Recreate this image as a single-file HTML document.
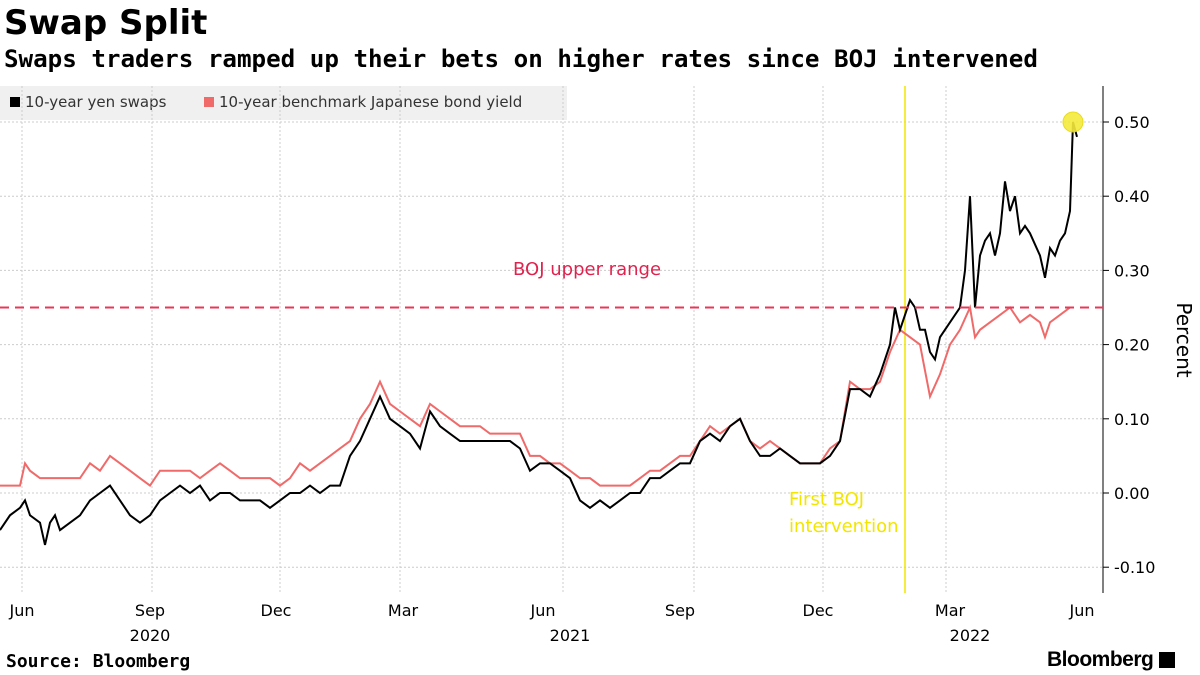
<!DOCTYPE html>
<html><head><meta charset="utf-8"><style>
body{margin:0;width:1200px;height:675px;background:#fff;font-family:"DejaVu Sans","Liberation Sans",sans-serif;overflow:hidden;position:relative}
.t{position:absolute;white-space:nowrap}
</style></head><body>
<div class="t" style="left:4px;top:3px;font-size:34px;font-weight:bold;color:#000">Swap Split</div>
<div class="t" style="left:4px;top:45px;font-size:24.2px;font-weight:bold;color:#000;font-family:'DejaVu Sans Mono','Liberation Mono',monospace">Swaps traders ramped up their bets on higher rates since BOJ intervened</div>
<div style="position:absolute;left:0;top:86px;width:567px;height:34px;background:#f0f0f0"></div>
<div class="t" style="left:10px;top:93px;font-size:15px;color:#333"><span style="display:inline-block;width:10px;height:10px;background:#000;margin-right:5px"></span>10-year yen swaps</div>
<div class="t" style="left:204px;top:93px;font-size:15px;color:#333"><span style="display:inline-block;width:10px;height:10px;background:#f06a6a;margin-right:5px"></span>10-year benchmark Japanese bond yield</div>
<svg id="c" width="1200" height="675" style="position:absolute;left:0;top:0;font-family:'DejaVu Sans','Liberation Sans',sans-serif"></svg>
<div class="t" style="left:6px;top:651px;font-size:18px;font-weight:bold;color:#000;font-family:'DejaVu Sans Mono','Liberation Mono',monospace">Source: Bloomberg</div>
<div class="t" style="left:1047px;top:648px;font-size:21px;font-weight:bold;color:#000;font-family:'Liberation Sans',sans-serif;letter-spacing:-0.5px">Bloomberg <span style="display:inline-block;width:16px;height:16px;background:#000;vertical-align:-2px"></span></div>
<script>
const swapWeek=[0,1,2,2.5,3,4,4.5,5,5.5,6,7,8,9,10,11,12,13,14,15,16,17,18,19,20,21,22,23,24,25,26,27,28,29,30,31,32,33,34,35,36,37,38,39,40,41,42,43,44,45,46,47,48,49,50,51,52,53,54,55,56,57,58,59,60,61,62,63,64,65,66,67,68,69,70,71,72,73,74,75,76,77,78,79,80,81,82,83,84,85,86,87,88,89,89.5,90,90.5,91,91.5,92,92.5,93,93.5,94,95,96,96.5,97,97.5,98,98.5,99,99.5,100,100.5,101,101.5,102,102.5,103,104,104.5,105,105.5,106,106.5,107,107.3,107.7];
const swapVals=[-0.05,-0.03,-0.02,-0.01,-0.03,-0.04,-0.07,-0.04,-0.03,-0.05,-0.04,-0.03,-0.01,0.0,0.01,-0.01,-0.03,-0.04,-0.03,-0.01,0.0,0.01,0.0,0.01,-0.01,0.0,0.0,-0.01,-0.01,-0.01,-0.02,-0.01,0.0,0.0,0.01,0.0,0.01,0.01,0.05,0.07,0.10,0.13,0.10,0.09,0.08,0.06,0.11,0.09,0.08,0.07,0.07,0.07,0.07,0.07,0.07,0.06,0.03,0.04,0.04,0.03,0.02,-0.01,-0.02,-0.01,-0.02,-0.01,0.0,0.0,0.02,0.02,0.03,0.04,0.04,0.07,0.08,0.07,0.09,0.10,0.07,0.05,0.05,0.06,0.05,0.04,0.04,0.04,0.05,0.07,0.14,0.14,0.13,0.16,0.20,0.25,0.22,0.24,0.26,0.25,0.22,0.22,0.19,0.18,0.21,0.23,0.25,0.30,0.40,0.25,0.32,0.34,0.35,0.32,0.35,0.42,0.38,0.40,0.35,0.36,0.35,0.32,0.29,0.33,0.32,0.34,0.35,0.38,0.50,0.48];
const jgbWeek=[0,1,2,2.5,3,4,5,6,7,8,9,10,11,12,13,14,15,16,17,18,19,20,21,22,23,24,25,26,27,28,29,30,31,32,33,34,35,36,37,38,39,40,41,42,43,44,45,46,47,48,49,50,51,52,53,54,55,56,57,58,59,60,61,62,63,64,65,66,67,68,69,70,71,72,73,74,75,76,77,78,79,80,81,82,83,84,85,86,87,88,89,90,91,92,93,94,95,96,97,97.5,98,99,100,101,102,103,104,104.5,105,106,107,107.3];
const jgbVals=[0.01,0.01,0.01,0.04,0.03,0.02,0.02,0.02,0.02,0.02,0.04,0.03,0.05,0.04,0.03,0.02,0.01,0.03,0.03,0.03,0.03,0.02,0.03,0.04,0.03,0.02,0.02,0.02,0.02,0.01,0.02,0.04,0.03,0.04,0.05,0.06,0.07,0.10,0.12,0.15,0.12,0.11,0.10,0.09,0.12,0.11,0.10,0.09,0.09,0.09,0.08,0.08,0.08,0.08,0.05,0.05,0.04,0.04,0.03,0.02,0.02,0.01,0.01,0.01,0.01,0.02,0.03,0.03,0.04,0.05,0.05,0.07,0.09,0.08,0.09,0.10,0.07,0.06,0.07,0.06,0.05,0.04,0.04,0.04,0.06,0.07,0.15,0.14,0.14,0.15,0.19,0.22,0.21,0.20,0.13,0.16,0.20,0.22,0.25,0.21,0.22,0.23,0.24,0.25,0.23,0.24,0.23,0.21,0.23,0.24,0.25,0.25];
const yTicks=[0.5,0.4,0.3,0.2,0.1,0.0,-0.1];
const yTickLabels=["0.50","0.40","0.30","0.20","0.10","0.00","-0.10"];
const monthLabels=["Jun","Sep","Dec","Mar","Jun","Sep","Dec","Mar","Jun"];
const monthWeeks=[2.2,15.0,27.6,40.3,54.3,68.0,81.8,95.0,108.2];
const gridWeeks=[2.2,15.2,28,40,56.3,69.4,82.3,94.6];
const yearLabels=["2020","2021","2022"];
const yearWeeks=[15.0,57.0,97.0];
const bojRange=0.25, interventionWeek=90.5;

const svg=document.getElementById('c');const NS='http://www.w3.org/2000/svg';
const X=w=>w*10, Y=v=>493-v*742;
function mk(t,a,p){const e=document.createElementNS(NS,t);for(const k in a)e.setAttribute(k,a[k]);(p||svg).appendChild(e);return e;}
yTicks.forEach((v,i)=>{
 const g=mk('line',{x1:0,x2:1103,y1:Y(v),y2:Y(v),stroke:'#ccc','stroke-dasharray':'2,2'});
 
 const tk=mk('line',{x1:1103,x2:1109,y1:Y(v),y2:Y(v),stroke:'#000'});
 
 const t=mk('text',{x:1114,y:Y(v)+6,'font-size':16,fill:'#000'});t.textContent=yTickLabels[i];
 
});
gridWeeks.forEach(w=>{
 const g=mk('line',{x1:X(w),x2:X(w),y1:86,y2:593,stroke:'#ccc','stroke-dasharray':'2,2'});
 
});
monthWeeks.forEach((w,i)=>{
 const t=mk('text',{x:X(w),y:616,'font-size':16,fill:'#000','text-anchor':'middle'});t.textContent=monthLabels[i];
 
});
yearWeeks.forEach((w,i)=>{const t=mk('text',{x:X(w),y:641,'font-size':16,fill:'#000','text-anchor':'middle'});t.textContent=yearLabels[i];
 });
const ax=mk('line',{x1:1103,x2:1103,y1:86,y2:593,stroke:'#000'});

const pl=mk('text',{x:1177,y:340,'font-size':20,fill:'#000','text-anchor':'middle',transform:'rotate(90 1177 340)'});pl.textContent='Percent';

const vl=mk('line',{x1:X(interventionWeek),x2:X(interventionWeek),y1:86,y2:593,stroke:'#f2e600','stroke-width':1.5});

const jp=mk('polyline',{points:jgbWeek.map((w,i)=>X(w)+','+Y(jgbVals[i])).join(' '),fill:'none',stroke:'#f06a6a','stroke-width':2});

const sp=mk('polyline',{points:swapWeek.map((w,i)=>X(w)+','+Y(swapVals[i])).join(' '),fill:'none',stroke:'#000','stroke-width':2});

const dl=mk('line',{x1:0,x2:1103,y1:Y(bojRange),y2:Y(bojRange),stroke:'#e8375a','stroke-width':2,'stroke-dasharray':'9,6'});

const bt=mk('text',{x:513,y:275,'font-size':18,fill:'#e0234e'});bt.textContent='BOJ upper range';

const it1=mk('text',{x:789,y:505,'font-size':18,fill:'#f2e600'});it1.textContent='First BOJ';

const it2=mk('text',{x:789,y:532,'font-size':18,fill:'#f2e600'});it2.textContent='intervention';

const mi=swapVals.indexOf(Math.max(...swapVals));
const cc=mk('circle',{cx:X(swapWeek[mi]),cy:Y(swapVals[mi]),r:10,fill:'#f5ea3c',stroke:'#e6d800','stroke-width':1,opacity:0.9});

</script>
</body></html>
